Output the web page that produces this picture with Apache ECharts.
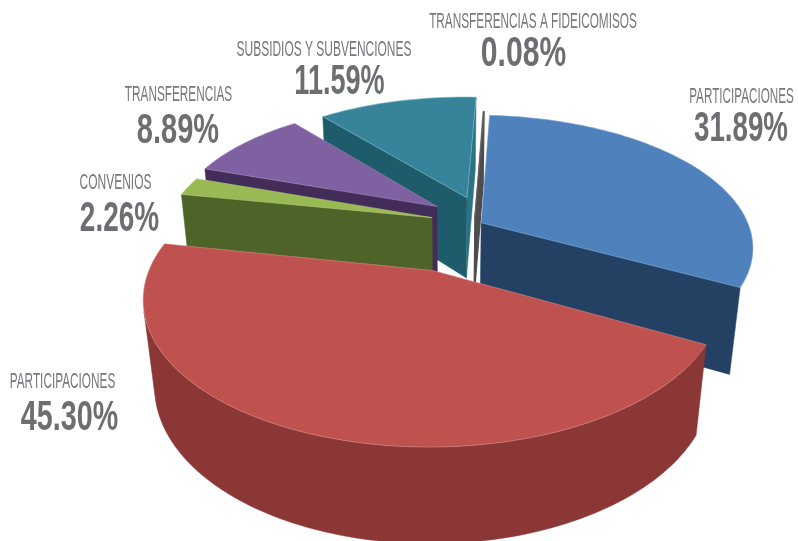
<!DOCTYPE html>
<html>
<head>
<meta charset="utf-8">
<style>html,body{margin:0;padding:0;background:#fff}#c{width:798px;height:541px}</style>
<script src="https://cdn.jsdelivr.net/npm/echarts@6/dist/echarts.min.js"></script>
</head>
<body>
<div id="c"></div>
<script>
// --- data (clockwise from the top of the pie) ---
const categories = ['TRANSFERENCIAS A FIDEICOMISOS','PARTICIPACIONES','PARTICIPACIONES','CONVENIOS','TRANSFERENCIAS','SUBSIDIOS Y SUBVENCIONES'];
const values = [0.08, 31.89, 45.30, 2.26, 8.89, 11.59];

// --- styles ---
const topColors  = ['#4d4d4d','#4f81bd','#bf524f','#98b954','#7f60a0','#37839a'];
const wallColors = ['#4d4d4d','#244163','#8b3735','#4e6328','#432d58','#1f5c6b'];
const endWallColors = ['#4d4d4d','#244163','#8b3735','#4e6328','#432d58','#2b7285'];
const edgeColors = ['#6a6a6a','#7aa0d0','#d98a88','#b8d080','#a088c0','#7fb8c8'];
const wallStroke = [1.2,0.5,0.5,0.5,0.5,0.5];
const hasOuterWall = [false,false,true,false,false,false];
const drawOrder = [5,4,3,0,1,2];
// how far each slice is pulled out of the pie, in pie radii (sideways, backwards)
const explodeX = [0.094,0.117,-0.060,-0.068,-0.050,0.066];
const explodeY = [0.140,0.095,-0.260,0.136,0.227,0.300];
// label centres and horizontal squeeze
const nameX = [533,741.5,62.5,115.5,178.5,324];
const nameY = [21.5,97,381.5,182.5,95,49.5];
const pctX  = [523.5,741,69.5,119.5,178,339.5];
const pctY  = [54.5,129,418.5,219.5,131.5,82];
const nameScale = [0.536,0.532,0.536,0.546,0.535,0.544];
const pctScale  = [0.70,0.645,0.667,0.65,0.675,0.63];

// --- camera model ---
const startDeg = 3.0, thickness = 0.362, arcStep = 1.5;
const CX = 450, CY = 235, F = 271, SIN = 0.482, COS = 0.876, KY = 0.1776, KZ = 0.0977;
function project(x, y, z) {
  const w = 1 + KY * y - KZ * z;
  return [CX + F * x / w, CY - F * (y * SIN + z * COS) / w];
}
function area(p) {
  let s = 0;
  for (let i = 0; i < p.length; i++) {
    const a = p[i], b = p[(i + 1) % p.length];
    s += a[0] * b[1] - b[0] * a[1];
  }
  return s;
}
const total = values.reduce((a, b) => a + b, 0);

function renderSlice(params, api) {
  const i = api.value(0);
  let before = 0;
  for (let k = 0; k < i; k++) before += values[k];
  const a0 = startDeg + before / total * 360;
  const a1 = a0 + values[i] / total * 360;
  const ox = explodeX[i], oy = explodeY[i];
  const rim = (deg, z) => {
    const r = deg * Math.PI / 180;
    return project(ox + Math.sin(r), oy + Math.cos(r), z);
  };
  const topArc = [], botArc = [];
  const n = Math.max(1, Math.ceil((a1 - a0) / arcStep));
  for (let k = 0; k <= n; k++) {
    const d = a0 + (a1 - a0) * k / n;
    topArc.push(rim(d, 0));
    botArc.push(rim(d, -thickness));
  }
  const apexT = project(ox, oy, 0), apexB = project(ox, oy, -thickness);
  const children = [];
  const poly = (points, fill, stroke, lw) => children.push({
    type: 'polygon', shape: { points },
    style: { fill, stroke: stroke || fill, lineWidth: lw === undefined ? wallStroke[i] : lw }
  });
  // outer wall: only the run of arc steps that faces the camera, as one polygon
  if (hasOuterWall[i]) {
    const tops = [], bots = [];
    for (let k = 0; k < n; k++) {
      if (area([topArc[k], topArc[k + 1], botArc[k + 1], botArc[k]]) < 0) {
        if (!tops.length) { tops.push(topArc[k]); bots.push(botArc[k]); }
        tops.push(topArc[k + 1]); bots.push(botArc[k + 1]);
      }
    }
    if (tops.length) poly(tops.concat(bots.reverse()), wallColors[i]);
  }
  // radial walls (only those that face the camera)
  const startWall = [apexT, topArc[0], botArc[0], apexB];
  const endWall = [apexT, topArc[n], botArc[n], apexB];
  if (area(startWall) < 0) poly(startWall, wallColors[i]);
  if (area(endWall) > 0) poly(endWall, endWallColors[i]);
  // top face
  poly([apexT].concat(topArc), topColors[i], edgeColors[i], 0.6);
  return { type: 'group', children };
}

function renderLabel(params, api) {
  const i = api.value(0);
  return {
    type: 'group',
    children: [
      { type: 'text', x: nameX[i], y: nameY[i], scaleX: nameScale[i],
        style: { text: categories[i], font: '22px "Liberation Sans"', fill: '#77787b', align: 'center', verticalAlign: 'middle' } },
      { type: 'text', x: pctX[i], y: pctY[i], scaleX: pctScale[i],
        style: { text: values[i].toFixed(2) + '%', font: 'bold 43px "Liberation Sans"', fill: '#6d6e71', align: 'center', verticalAlign: 'middle' } }
    ]
  };
}

const chart = echarts.init(document.getElementById('c'), null, { renderer: 'canvas' });
chart.setOption({
  animation: false,
  backgroundColor: '#fff',
  series: [
    { type: 'custom', coordinateSystem: 'none', renderItem: renderSlice, silent: true,
      data: drawOrder.map(i => [i, values[i]]), z: 1 },
    { type: 'custom', coordinateSystem: 'none', renderItem: renderLabel, silent: true,
      data: values.map((v, i) => [i, v]), z: 2 }
  ]
});
</script>
</body>
</html>
